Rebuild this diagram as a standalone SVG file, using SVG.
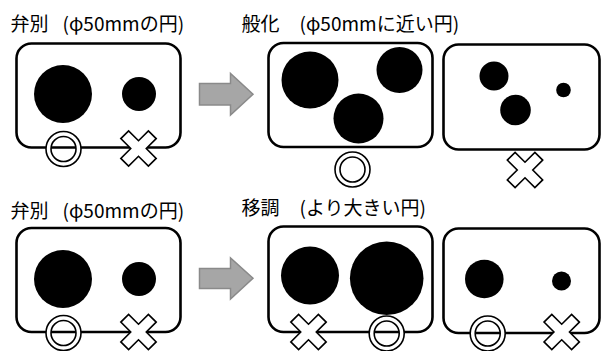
<svg xmlns="http://www.w3.org/2000/svg" xmlns:xlink="http://www.w3.org/1999/xlink" width="602" height="351" viewBox="0 0 602 351">
<style>
.box{fill:#fff;stroke:#000;stroke-width:2.6}
.dot{fill:#000}
.lbl{font-family:"Noto Sans CJK JP","Noto Sans",sans-serif;font-size:19px;fill:#000}
.arrow{fill:#a6a6a6;stroke:#8a8a8a;stroke-width:1.5}
.mark{fill:#fff;stroke:#000;stroke-width:1.6;fill-rule:evenodd}
</style>
<defs>
<path id="ok" class="mark" d="M-17.5,0a17.5,17.5 0 1,0 35,0a17.5,17.5 0 1,0 -35,0ZM-12.5,0a12.5,12.5 0 1,0 25,0a12.5,12.5 0 1,0 -25,0Z"/>
<polygon id="ng" class="mark" points="5.5,-19.5 5.5,-5.5 19.5,-5.5 19.5,5.5 5.5,5.5 5.5,19.5 -5.5,19.5 -5.5,5.5 -19.5,5.5 -19.5,-5.5 -5.5,-5.5 -5.5,-19.5" transform="rotate(45)"/>
</defs>

<g id="label-tl"><text class="lbl" x="10.5" y="31">弁別<tspan x="62.5">(φ50mmの円)</tspan></text></g>
<g id="label-tr"><text class="lbl" x="241.5" y="31">般化<tspan x="299.5">(φ50mmに近い円)</tspan></text></g>
<g id="label-bl"><text class="lbl" x="10.5" y="217.5">弁別<tspan x="62.5">(φ50mmの円)</tspan></text></g>
<g id="label-br"><text class="lbl" x="241.5" y="214.5">移調<tspan x="299.5">(より大きい円)</tspan></text></g>

<g id="box-tl">
<rect class="box" x="16.5" y="43.5" width="164" height="104" rx="15"/>
<circle class="dot" cx="63" cy="94" r="29"/>
<circle class="dot" cx="139" cy="94" r="17"/>
</g>
<g id="box-tm">
<rect class="box" x="268.5" y="43" width="164" height="104" rx="15"/>
<circle class="dot" cx="310" cy="80" r="28.5"/>
<circle class="dot" cx="399.5" cy="70" r="23"/>
<circle class="dot" cx="358.5" cy="118.5" r="25"/>
</g>
<g id="box-tr">
<rect class="box" x="443.5" y="44.5" width="156" height="105" rx="15"/>
<circle class="dot" cx="494" cy="76" r="14.5"/>
<circle class="dot" cx="515.5" cy="110" r="15.3"/>
<circle class="dot" cx="563.5" cy="90" r="7.3"/>
</g>
<g id="box-bl">
<rect class="box" x="16.5" y="228" width="164" height="104" rx="15"/>
<circle class="dot" cx="63" cy="279" r="29"/>
<circle class="dot" cx="139" cy="279" r="17"/>
</g>
<g id="box-bm">
<rect class="box" x="268.5" y="226.5" width="164" height="105.5" rx="15"/>
<circle class="dot" cx="310" cy="275.5" r="29"/>
<circle class="dot" cx="386.7" cy="278.3" r="36.8"/>
</g>
<g id="box-br">
<rect class="box" x="443.5" y="228.5" width="156" height="104.5" rx="15"/>
<circle class="dot" cx="484.3" cy="279" r="19.3"/>
<circle class="dot" cx="561.5" cy="281" r="9.5"/>
</g>

<g id="connectors">
<polygon class="arrow" points="199.5,83.5 230.5,83.5 230.5,73.5 253,94.3 230.5,115 230.5,105 199.5,105"/>
<polygon class="arrow" points="199.5,268.5 230.5,268.5 230.5,258 253,278.3 230.5,299 230.5,288.5 199.5,288.5"/>
</g>

<g id="marks">
<use xlink:href="#ok" x="63.5" y="149"/>
<use xlink:href="#ng" x="138.5" y="148.5"/>
<use xlink:href="#ok" x="352.5" y="169.5"/>
<use xlink:href="#ng" x="525" y="170"/>
<use xlink:href="#ok" x="63.5" y="333"/>
<use xlink:href="#ng" x="138.5" y="332"/>
<use xlink:href="#ng" x="308.5" y="332"/>
<use xlink:href="#ok" x="386.7" y="333.5"/>
<use xlink:href="#ok" x="487.7" y="333.5"/>
<use xlink:href="#ng" x="561.7" y="332"/>
</g>
</svg>
